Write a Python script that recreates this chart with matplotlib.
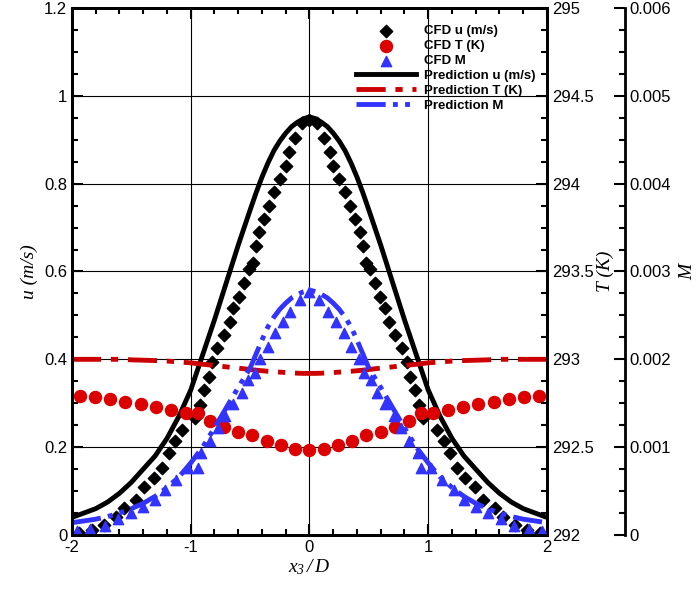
import numpy as np
import matplotlib.pyplot as plt
from matplotlib.ticker import MultipleLocator

plt.rcParams['font.family'] = 'Liberation Sans'
plt.rcParams['font.size'] = 12
plt.rcParams['mathtext.fontset'] = 'custom'
plt.rcParams['mathtext.it'] = 'Liberation Serif:italic'
plt.rcParams['mathtext.rm'] = 'Liberation Serif:italic'

# half profiles (x >= 0), the profiles are symmetric about x3/D = 0
x_half = [0.0, 0.05, 0.1, 0.15, 0.2, 0.25, 0.3, 0.35, 0.4, 0.45, 0.5, 0.6, 0.7, 0.8, 0.9, 1.0,
          1.1, 1.2, 1.3, 1.4, 1.5, 1.6, 1.7, 1.8, 1.9, 2.0]
u_pred_half = [0.952, 0.948, 0.94, 0.93, 0.915, 0.897, 0.875, 0.847, 0.815, 0.779, 0.74, 0.66, 0.575, 0.49,
               0.41, 0.33, 0.27, 0.22, 0.18, 0.15, 0.12, 0.095, 0.075, 0.06, 0.05, 0.04]
T_pred_half = [292.92, 292.92, 292.921, 292.923, 292.925, 292.927, 292.93, 292.932, 292.935, 292.938,
               292.942, 292.95, 292.957, 292.965, 292.972, 292.98,
               292.985, 292.99, 292.993, 292.995, 292.997, 293.0, 293.0, 293.0, 293.0, 293.0]
M_pred_half = [0.00279, 0.00277, 0.00274, 0.0027, 0.00264, 0.00257, 0.00248, 0.00237, 0.00222, 0.00206,
               0.0019, 0.00168, 0.00145, 0.00122, 0.001, 0.00082,
               0.00066, 0.00054, 0.00044, 0.00036, 0.0003, 0.00025, 0.00021, 0.00018, 0.00016, 0.00014]

xu_half = [0.0, 0.06, 0.12, 0.17, 0.195, 0.25, 0.30, 0.34, 0.38, 0.425, 0.45, 0.476, 0.51, 0.55, 0.59,
           0.64, 0.67, 0.72, 0.78, 0.82, 0.85, 0.89, 0.92, 0.96, 1.07, 1.13, 1.18, 1.24, 1.31, 1.39,
           1.46, 1.56, 1.63, 1.73, 1.83, 1.94]
u_cfd_half = [0.945, 0.938, 0.904, 0.871, 0.84, 0.81, 0.78, 0.749, 0.72, 0.689, 0.658, 0.62, 0.605, 0.573,
              0.543, 0.516, 0.486, 0.456, 0.425, 0.395, 0.36, 0.33, 0.296, 0.266, 0.239, 0.213, 0.186,
              0.152, 0.129, 0.11, 0.08, 0.061, 0.042, 0.023, 0.011, 0.005]

xT_half = [0.0, 0.12, 0.24, 0.36, 0.48, 0.60, 0.72, 0.84, 0.94, 1.04, 1.17, 1.29, 1.42, 1.55, 1.68, 1.81, 1.93]
T_cfd_half = [292.484, 292.491, 292.512, 292.537, 292.569, 292.588, 292.617, 292.651, 292.693, 292.693,
              292.711, 292.730, 292.746, 292.759, 292.772, 292.784, 292.791]

xm_half = [0.0, 0.08, 0.16, 0.22, 0.29, 0.35, 0.42, 0.46, 0.52, 0.57, 0.64, 0.71, 0.77, 0.84, 0.91,
           0.94, 1.02, 1.12, 1.22, 1.30, 1.40, 1.50, 1.61, 1.72, 1.85, 1.96]
M_cfd_half = [0.00277, 0.00268, 0.00254, 0.00243, 0.0023, 0.00214, 0.002, 0.00184, 0.00176, 0.00162,
              0.00149, 0.00135, 0.00122, 0.00107, 0.00093, 0.00076, 0.00076, 0.00063, 0.00051, 0.0004,
              0.00032, 0.00025, 0.00018, 0.0001, 0.00007, 0.00004]


def mirror(xs, ys):
    x = [-v for v in xs[:0:-1]] + list(xs)
    y = list(ys[:0:-1]) + list(ys)
    return np.array(x), np.array(y)


x, u_pred = mirror(x_half, u_pred_half)
_, T_pred = mirror(x_half, T_pred_half)
_, M_pred = mirror(x_half, M_pred_half)
xu, u_cfd = mirror(xu_half, u_cfd_half)
xT, T_cfd = mirror(xT_half, T_cfd_half)
xm, M_cfd = mirror(xm_half, M_cfd_half)

fig = plt.figure(figsize=(6.99, 5.92), dpi=100)
ax = fig.add_axes([0.103, 0.0963, 0.6795, 0.8902])
axT = ax.twinx()
axM = ax.twinx()
axM.spines['right'].set_position(('axes', 1.164))

serif = dict(family='Liberation Serif', style='italic', size=14)

ax.plot(x, u_pred, color='black', lw=3.5, label='Prediction u (m/s)', zorder=3)
ax.scatter(xu, u_cfd, marker='D', s=40, color='black', label='CFD u (m/s)', zorder=4)
axT.plot(x, T_pred, color='#cc0000', lw=3.5, dashes=(6, 2, 1.5, 2), label='Prediction T (K)')
axT.scatter(xT, T_cfd, marker='o', s=75, color='#dd0000', label='CFD T (K)')
axM.plot(x, M_pred, color='#3333ff', lw=3.5, dashes=(6, 1.5, 1, 1.5, 1, 1.5), label='Prediction M')
axM.scatter(xm, M_cfd, marker='^', s=55, color='#3333ff', label='CFD M')

ax.set_xlim(-2, 2)
ax.set_ylim(0, 1.2)
axT.set_ylim(292, 295)
axM.set_ylim(0, 0.006)

ax.xaxis.set_minor_locator(MultipleLocator(0.2))
ax.yaxis.set_minor_locator(MultipleLocator(0.05))
axT.yaxis.set_minor_locator(MultipleLocator(0.125))
axM.yaxis.set_minor_locator(MultipleLocator(0.00025))
ax.set_xticks([-2, -1, 0, 1, 2], ['-2', '-1', '0', '1', '2'])
ax.set_yticks(np.arange(0, 1.21, 0.2), ['0', '0.2', '0.4', '0.6', '0.8', '1', '1.2'])
axT.set_yticks(np.arange(292, 295.01, 0.5), ['292', '292.5', '293', '293.5', '294', '294.5', '295'])
axM.set_yticks(np.arange(0, 0.00601, 0.001), ['0', '0.001', '0.002', '0.003', '0.004', '0.005', '0.006'])

ax.tick_params(which='both', direction='in', top=True, width=1.5)
for a in (ax, axT, axM):
    a.tick_params(which='both', direction='in', width=1.5)
    a.tick_params(which='major', length=8)
    a.tick_params(which='minor', length=4)
    for s in a.spines.values():
        s.set_linewidth(2)

ax.grid(True, which='major', color='black', lw=0.8)
ax.set_axisbelow(True)

ax.set_xlabel('$x_3\\,/\\,D$', fontsize=14, labelpad=2)
ax.set_ylabel('u (m/s)', fontdict=serif)
axT.set_ylabel('T (K)', fontdict=serif, labelpad=2)
axM.set_ylabel('M', fontdict=serif, labelpad=6)

handles = []
labels = []
for a in (ax, axT, axM):
    h, l = a.get_legend_handles_labels()
    handles += h
    labels += l
order = ['CFD u (m/s)', 'CFD T (K)', 'CFD M', 'Prediction u (m/s)', 'Prediction T (K)', 'Prediction M']
hs = [handles[labels.index(o)] for o in order]
axM.legend(hs, order, loc='upper right', bbox_to_anchor=(1.0, 0.99), frameon=False,
           prop=dict(family='Liberation Sans', weight='bold', size=9.5),
           handlelength=4.5, labelspacing=0.2, handletextpad=0.6, scatterpoints=1)

fig.savefig('out.png', dpi=100)
